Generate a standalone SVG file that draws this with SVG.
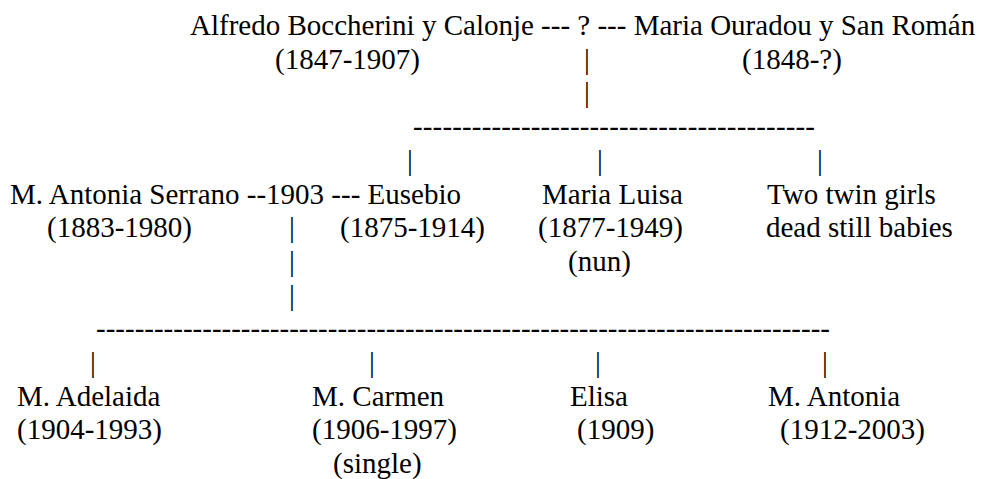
<svg xmlns="http://www.w3.org/2000/svg" width="987" height="479" viewBox="0 0 987 479">
<style>
text{font-family:"Liberation Serif","Times New Roman",serif;font-size:29px;fill:#000}
</style>
<rect width="987" height="479" fill="#fff"/>
<g id="parents">
<text x="190" y="35">Alfredo Boccherini y Calonje --- ? --- Maria Ouradou y San Román</text>
<text x="275" y="68.7">(1847-1907)</text>
<text x="742" y="68.7">(1848-?)</text>
</g>
<g id="eusebio-couple">
<text x="10" y="203.5">M. Antonia Serrano --1903 --- Eusebio</text>
<text x="47" y="237.2">(1883-1980)</text>
<text x="340" y="237.2">(1875-1914)</text>
</g>
<g id="maria-luisa">
<text x="542" y="203.5">Maria Luisa</text>
<text x="538" y="237.2">(1877-1949)</text>
<text x="568" y="270.9">(nun)</text>
</g>
<g id="twins">
<text x="767" y="203.5">Two twin girls</text>
<text x="766" y="237.2">dead still babies</text>
</g>
<g id="adelaida">
<text x="17" y="405.7">M. Adelaida</text>
<text x="17" y="439.4">(1904-1993)</text>
</g>
<g id="carmen">
<text x="312" y="405.7">M. Carmen</text>
<text x="312" y="439.4">(1906-1997)</text>
<text x="333" y="473.1">(single)</text>
</g>
<g id="elisa">
<text x="570" y="405.7">Elisa</text>
<text x="577" y="439.4">(1909)</text>
</g>
<g id="m-antonia">
<text x="768" y="405.7">M. Antonia</text>
<text x="780" y="439.4">(1912-2003)</text>
</g>
<g id="connectors">
<text x="584" y="68.7">|</text>
<text x="584" y="102.4">|</text>
<text x="413" y="136.1" textLength="402" lengthAdjust="spacing">-----------------------------------------</text>
<text x="407" y="169.8">|</text>
<text x="597" y="169.8">|</text>
<text x="817" y="169.8">|</text>
<text x="289" y="237.2">|</text>
<text x="289" y="270.9">|</text>
<text x="289" y="304.6">|</text>
<text x="96" y="338.3">----------------------------------------------------------------------------</text>
<text x="90" y="372">|</text>
<text x="369" y="372">|</text>
<text x="595" y="372">|</text>
<text x="822" y="372">|</text>
</g>
</svg>
